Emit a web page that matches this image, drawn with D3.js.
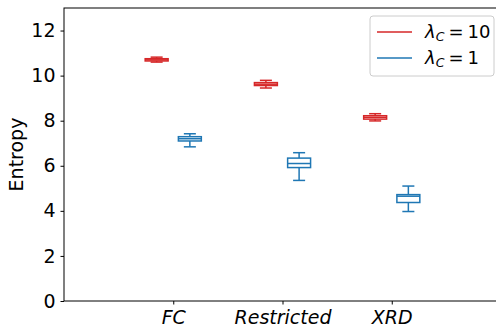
<!DOCTYPE html>
<html><head><meta charset="utf-8">
<script src="https://cdn.jsdelivr.net/npm/d3@7"></script>
<style>body{margin:0;background:#fff}svg{display:block}text{font-family:"DejaVu Sans",sans-serif}</style>
</head><body>
<script>
const categories = ["FC", "Restricted", "XRD"];
const seriesNames = ["λC=10", "λC=1"];
const seriesValues = ["10", "1"];
// [whiskerLow, q1, median, q3, whiskerHigh]
const stats10 = [[10.60, 10.65, 10.70, 10.75, 10.82], [9.45, 9.56, 9.62, 9.69, 9.79], [7.99, 8.07, 8.15, 8.22, 8.31]];
const stats1 = [[6.84, 7.10, 7.20, 7.29, 7.42], [5.35, 5.92, 6.10, 6.34, 6.58], [3.97, 4.37, 4.65, 4.72, 5.10]];
const yTicks = [0, 2, 4, 6, 8, 10, 12];
const colors = ["#d62728", "#1f77b4"];

const W = 496, H = 327;
const m = {l: 64, t: 8, r: -5, b: 26};
const svg = d3.select("body").append("svg").attr("width", W).attr("height", H);
const x = d3.scaleLinear().domain([0, 4]).range([m.l, W - m.r]);
const y = d3.scaleLinear().domain([0, 13]).range([H - m.b, m.t]);
const off = 0.152, bw = 0.21, cw = 0.11;

svg.append("rect").attr("x", m.l).attr("y", m.t).attr("width", x(4) - m.l).attr("height", y(0) - m.t)
  .attr("fill", "none").attr("stroke", "#000").attr("stroke-width", 1);

const yAxis = svg.append("g").attr("transform", `translate(${m.l},0)`)
  .call(d3.axisLeft(y).tickValues(yTicks).tickSize(3.5).tickPadding(5));
yAxis.select(".domain").remove();
yAxis.selectAll("text").attr("font-size", 19).attr("fill", "#000");

const xAxis = svg.append("g").attr("transform", `translate(0,${y(0)})`)
  .call(d3.axisBottom(x).tickValues([1, 2, 3]).tickFormat((d, i) => categories[i]).tickSize(3.5).tickPadding(6));
xAxis.select(".domain").remove();
xAxis.selectAll("text").attr("font-size", 19).attr("font-style", "italic").attr("fill", "#000");

svg.append("text").attr("transform", `translate(23,${(m.t + y(0)) / 2}) rotate(-90)`)
  .attr("text-anchor", "middle").attr("font-size", 19).text("Entropy");

function drawBoxes(stats, dx, color) {
  stats.forEach((s, i) => {
    const c = i + 1 + dx;
    const g = svg.append("g").attr("stroke", color).attr("stroke-width", 1.5).attr("fill", "none");
    g.append("rect").attr("x", x(c - bw / 2)).attr("width", x(c + bw / 2) - x(c - bw / 2))
      .attr("y", y(s[3])).attr("height", y(s[1]) - y(s[3]));
    g.append("line").attr("x1", x(c - bw / 2)).attr("x2", x(c + bw / 2)).attr("y1", y(s[2])).attr("y2", y(s[2]));
    g.append("line").attr("x1", x(c)).attr("x2", x(c)).attr("y1", y(s[3])).attr("y2", y(s[4]));
    g.append("line").attr("x1", x(c)).attr("x2", x(c)).attr("y1", y(s[1])).attr("y2", y(s[0]));
    [s[0], s[4]].forEach(v => g.append("line").attr("x1", x(c - cw / 2)).attr("x2", x(c + cw / 2)).attr("y1", y(v)).attr("y2", y(v)));
  });
}
drawBoxes(stats10, -off, colors[0]);
drawBoxes(stats1, off, colors[1]);

const lg = svg.append("g").attr("transform", "translate(370,16)");
lg.append("rect").attr("width", 124).attr("height", 60).attr("rx", 3).attr("fill", "#fff")
  .attr("stroke", "#ccc").attr("stroke-width", 1);
[0, 1].forEach(i => {
  const yy = 16 + i * 26;
  lg.append("line").attr("x1", 7).attr("x2", 42).attr("y1", yy).attr("y2", yy).attr("stroke", colors[i]).attr("stroke-width", 1.5);
  const t = lg.append("text").attr("x", 55).attr("y", yy + 6).attr("font-size", 18);
  t.append("tspan").attr("font-style", "italic").text("λ");
  t.append("tspan").attr("font-style", "italic").attr("font-size", 12.5).attr("dy", 3).text("C");
  t.append("tspan").attr("dy", -3).attr("dx", 4).text("=");
  t.append("tspan").attr("dx", 4).text(seriesValues[i]);
});
</script>
</body></html>
